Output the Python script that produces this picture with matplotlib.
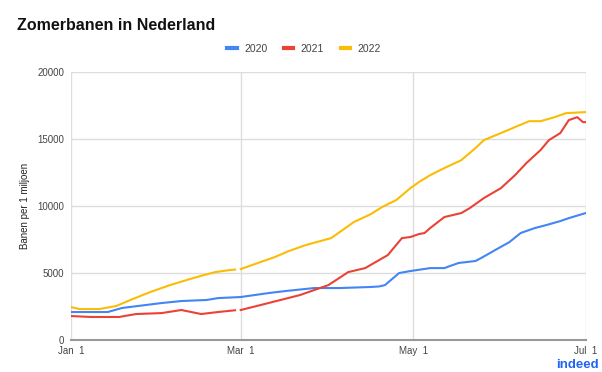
import numpy as np
import matplotlib.pyplot as plt

plt.rcParams['font.family'] = ['Liberation Sans', 'DejaVu Sans']

# dag-index vanaf 1 jan (59 = 29 feb, 60 = 1 mrt, 121 = 1 mei, 182 = 1 jul)
days_2020 = [0, 13, 18, 32, 39, 48, 52, 60, 70, 76, 86, 95, 106, 109, 111, 116,
             120, 127, 132, 137, 143, 145, 150, 155, 159, 164, 168, 173, 176, 182]
vals_2020 = [2090, 2090, 2390, 2760, 2910, 2990, 3130, 3210, 3510, 3660, 3880, 3880,
             3960, 4000, 4100, 5000, 5150, 5370, 5370, 5750, 5900, 6120, 6720, 7310,
             7990, 8360, 8580, 8880, 9100, 9480]

days_2021 = [0, 7, 17, 23, 32, 39, 46, 52, 58, 59, 60, 67, 81, 88, 91, 98, 104, 112,
             117, 120, 123, 125, 127, 132, 138, 141, 146, 152, 157, 161, 166, 169,
             173, 176, 179, 181, 182]
vals_2021 = [1790, 1720, 1720, 1940, 2010, 2240, 1940, 2090, 2220, np.nan, 2240, 2610,
             3360, 3880, 4100, 5070, 5370, 6340, 7610, 7690, 7910, 7990, 8360, 9180,
             9480, 9850, 10600, 11340, 12310, 13210, 14180, 14930, 15450, 16420, 16640,
             16270, 16270]

days_2022 = [0, 3, 10, 16, 21, 28, 35, 42, 47, 51, 56, 58, 59, 60, 67, 72, 77, 83, 92,
             95, 100, 106, 110, 115, 120, 123, 127, 132, 138, 143, 146, 152, 157, 162,
             166, 171, 175, 182]
vals_2022 = [2460, 2310, 2310, 2540, 2990, 3580, 4100, 4550, 4850, 5070, 5220, 5260,
             np.nan, 5300, 5820, 6190, 6640, 7090, 7610, 8060, 8810, 9400, 9930, 10450,
             11340, 11790, 12310, 12840, 13430, 14330, 14930, 15450, 15900, 16340,
             16340, 16640, 16940, 17020]

tick_days = [0, 60, 121, 182]
tick_labels = ['Jan  1', 'Mar  1', 'May  1', 'Jul  1']
y_ticks = [0, 5000, 10000, 15000, 20000]

fig = plt.figure(figsize=(6.02, 3.72), dpi=100)
ax = fig.add_axes([0.118, 0.086, 0.855, 0.72])

ax.plot(days_2020, vals_2020, color='#4285f4', lw=1.5, label='2020')
ax.plot(days_2021, vals_2021, color='#ea4335', lw=1.5, label='2021')
ax.plot(days_2022, vals_2022, color='#fbbc04', lw=1.5, label='2022')

ax.set_xlim(0, 182)
ax.set_ylim(0, 20000)
ax.set_xticks(tick_days)
ax.set_xticklabels(tick_labels)
ax.set_yticks(y_ticks)
ax.tick_params(axis='both', length=0, labelsize=7, colors='#444444')
ax.tick_params(axis='x', pad=4)
ax.tick_params(axis='y', pad=5)
ax.grid(True, color='#dddddd', lw=1)
ax.set_axisbelow(True)
for s in ['top', 'right', 'left']:
    ax.spines[s].set_visible(False)
ax.spines['bottom'].set_color('#999999')
ax.spines['bottom'].set_linewidth(1.5)
ax.set_ylabel('Banen per 1 miljoen', fontsize=7, color='#222222', labelpad=5)

fig.text(0.028, 0.932, 'Zomerbanen in Nederland', fontsize=11.5, fontweight='bold',
         color='#111111', va='center')
fig.legend(loc='center', bbox_to_anchor=(0.505, 0.868), ncol=3, frameon=False,
           fontsize=7.5, handlelength=0.9, handletextpad=0.7, columnspacing=1.6,
           labelcolor='#444444')
for h in fig.legends[0].get_lines():
    h.set_linewidth(3)
fig.text(0.994, 0.018, 'indeed', fontsize=9.5, fontweight='bold', color='#2164f3',
         ha='right', va='center')

fig.savefig('out.png', dpi=100)
